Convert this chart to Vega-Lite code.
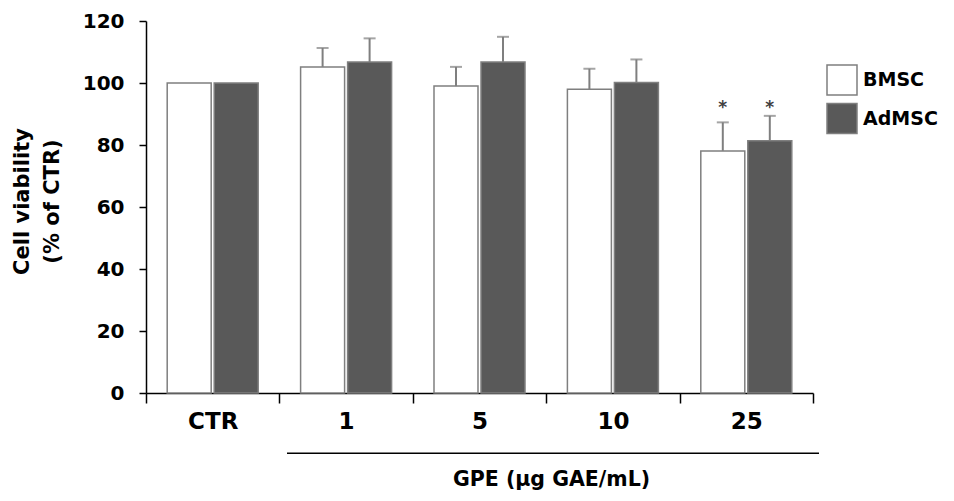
{
  "$schema": "https://vega.github.io/schema/vega-lite/v6.json",
  "width": 667,
  "height": 372,
  "autosize": {"type": "none"},
  "padding": {"left": 146, "top": 21, "right": 141, "bottom": 108},
  "background": "white",
  "config": {
    "view": {"stroke": null},
    "font": "DejaVu Sans",
    "axis": {"labelFont": "DejaVu Sans", "titleFont": "DejaVu Sans", "labelColor": "black", "titleColor": "black", "domainColor": "black", "tickColor": "black", "grid": false}
  },
  "data": {
    "values": [
      {"cat": "CTR", "group": "BMSC", "value": 100, "upper": null, "sig": false},
      {"cat": "CTR", "group": "AdMSC", "value": 100, "upper": null, "sig": false},
      {"cat": "1", "group": "BMSC", "value": 105.2, "upper": 111.3, "sig": false},
      {"cat": "1", "group": "AdMSC", "value": 106.8, "upper": 114.4, "sig": false},
      {"cat": "5", "group": "BMSC", "value": 99.0, "upper": 105.2, "sig": false},
      {"cat": "5", "group": "AdMSC", "value": 106.8, "upper": 114.9, "sig": false},
      {"cat": "10", "group": "BMSC", "value": 98.0, "upper": 104.6, "sig": false},
      {"cat": "10", "group": "AdMSC", "value": 100.2, "upper": 107.6, "sig": false},
      {"cat": "25", "group": "BMSC", "value": 78.1, "upper": 87.3, "sig": true},
      {"cat": "25", "group": "AdMSC", "value": 81.4, "upper": 89.4, "sig": true}
    ]
  },
  "encoding": {
    "x": {
      "field": "cat",
      "type": "nominal",
      "scale": {"domain": ["CTR", "1", "5", "10", "25"], "paddingInner": 0, "paddingOuter": 0},
      "axis": {
        "title": "GPE (µg GAE/mL)",
        "titleFontSize": 20.5,
        "titleFontWeight": "bold",
        "titleX": 405,
        "titleY": 92,
        "titleBaseline": "alphabetic",
        "titleAnchor": "middle",
        "titleAlign": "center",
        "labelAngle": 0,
        "labelFontSize": 23,
        "labelFontWeight": "bold",
        "labelPadding": 7,
        "tickBand": "extent",
        "tickSize": 10,
        "tickWidth": 1.5,
        "domainWidth": 1.5
      }
    },
    "xOffset": {
      "field": "group",
      "type": "nominal",
      "sort": ["BMSC", "AdMSC"],
      "scale": {"paddingInner": 0.064, "paddingOuter": 0.451}
    }
  },
  "layer": [
    {
      "mark": {"type": "bar", "stroke": "#7f7f7f", "strokeWidth": 1.5},
      "encoding": {
        "y": {
          "field": "value",
          "type": "quantitative",
          "scale": {"domain": [0, 120]},
          "axis": {
            "values": [0, 20, 40, 60, 80, 100, 120],
            "title": ["Cell viability", "(% of CTR)"],
            "titleFontSize": 21,
            "titleFontWeight": "bold",
            "titleLineHeight": 30,
            "titlePadding": 20,
            "titleLimit": 400,
            "titleY": 180,
            "labelFontSize": 20,
            "labelFontWeight": "bold",
            "labelPadding": 15,
            "tickSize": 7,
            "tickWidth": 1.5,
            "domainWidth": 1.5
          }
        },
        "color": {
          "field": "group",
          "type": "nominal",
          "sort": ["BMSC", "AdMSC"],
          "scale": {"domain": ["BMSC", "AdMSC"], "range": ["white", "#595959"]},
          "legend": {
            "title": null,
            "orient": "none",
            "legendX": 680,
            "legendY": 43,
            "padding": 0,
            "symbolType": "square",
            "symbolSize": 900,
            "symbolStrokeColor": "#7f7f7f",
            "symbolStrokeWidth": 1.5,
            "labelFont": "DejaVu Sans",
            "labelFontSize": 19,
            "labelFontWeight": "bold",
            "labelColor": "black",
            "labelOffset": 5,
            "rowPadding": 2.5
          }
        }
      }
    },
    {
      "transform": [{"filter": "datum.upper != null"}],
      "mark": {"type": "rule", "color": "#7f7f7f", "strokeWidth": 2},
      "encoding": {
        "y": {"field": "value", "type": "quantitative"},
        "y2": {"field": "upper"}
      }
    },
    {
      "transform": [{"filter": "datum.upper != null"}],
      "mark": {"type": "tick", "color": "#7f7f7f", "size": 12, "thickness": 2},
      "encoding": {
        "y": {"field": "upper", "type": "quantitative"}
      }
    },
    {
      "transform": [{"filter": "datum.sig"}],
      "mark": {"type": "text", "text": "*", "fontSize": 17, "fontWeight": "bold", "color": "#404040", "baseline": "middle", "dy": 4},
      "encoding": {
        "y": {"datum": 93.2, "type": "quantitative"}
      }
    },
    {
      "data": {"values": [{"from": "1", "to": "25"}]},
      "mark": {"type": "rule", "color": "black", "strokeWidth": 1.5},
      "encoding": {
        "x": {"field": "from", "type": "nominal", "bandPosition": 0.057},
        "x2": {"field": "to", "bandPosition": 1.045},
        "y": {"datum": -19.4, "type": "quantitative"},
        "xOffset": null
      }
    }
  ]
}
